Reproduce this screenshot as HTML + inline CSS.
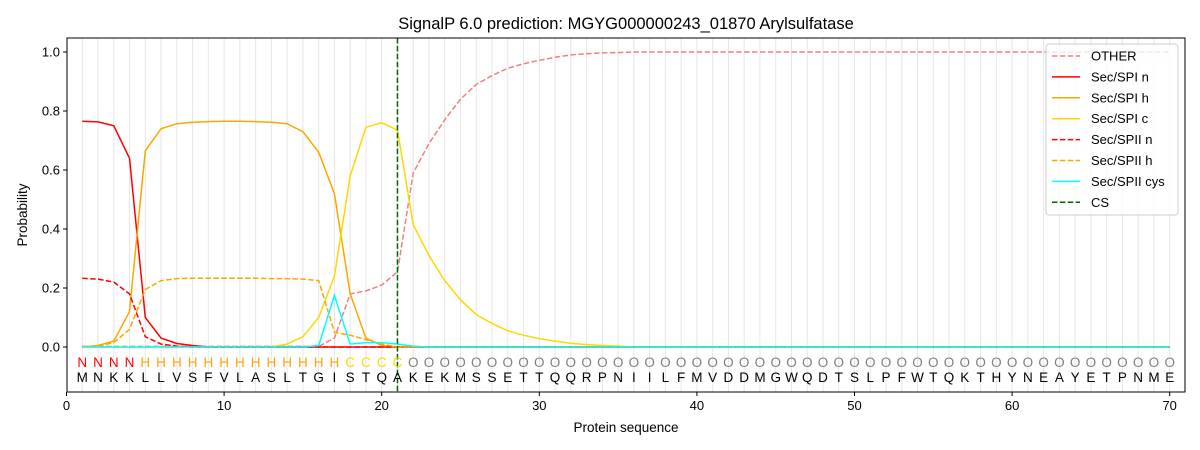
<!DOCTYPE html>
<html><head><meta charset="utf-8"><style>body{margin:0;background:#fff}svg{display:block;font-family:"Liberation Sans","DejaVu Sans",sans-serif}</style></head>
<body>
<svg id="s" width="1200" height="450" xmlns="http://www.w3.org/2000/svg"></svg>
<script>
const s=document.getElementById('s');
const X=i=>66.5+15.76*i, Y=v=>347-295*v;
let h='';
h+='<rect x="67" y="38" width="1118" height="354" fill="#fff" stroke="none"/>';
for(let i=1;i<=70;i++)h+=`<line x1="${X(i)}" y1="38" x2="${X(i)}" y2="392" stroke="#e6e6e6" stroke-width="1"/>`;
function arr(m,def){const a=[];for(let i=1;i<=70;i++)a.push(m[i]!==undefined?m[i]:def);return a;}
const other=arr({1:0,16:0,17:0.03,18:0.18,19:0.19,20:0.21,21:0.255,22:0.59,23:0.69,24:0.77,25:0.84,26:0.89,27:0.92,28:0.945,29:0.96,30:0.972,31:0.982,32:0.99,33:0.994,34:0.997,35:0.998},1);
for(let i=1;i<=16;i++)other[i-1]=0.002;
const spin=arr({1:0.765,2:0.763,3:0.75,4:0.64,5:0.1,6:0.03,7:0.012,8:0.005},0);
const spih=arr({1:0,2:0.005,3:0.02,4:0.12,5:0.665,6:0.74,7:0.757,8:0.762,9:0.764,10:0.765,11:0.765,12:0.764,13:0.762,14:0.757,15:0.73,16:0.66,17:0.52,18:0.18,19:0.03,20:0.005},0);
const spic=arr({14:0.01,15:0.035,16:0.1,17:0.24,18:0.58,19:0.745,20:0.76,21:0.735,22:0.415,23:0.31,24:0.225,25:0.16,26:0.11,27:0.08,28:0.055,29:0.04,30:0.028,31:0.02,32:0.013,33:0.008,34:0.005,35:0.003},0);
const s2n=arr({1:0.233,2:0.23,3:0.22,4:0.18,5:0.035,6:0.01,7:0.003},0);
const s2h=arr({1:0,2:0.003,3:0.015,4:0.06,5:0.195,6:0.225,7:0.232,8:0.233,9:0.233,10:0.233,11:0.233,12:0.233,13:0.232,14:0.232,15:0.23,16:0.225,17:0.05,18:0.04,19:0.025,20:0.01},0);
const cys=arr({16:0.005,17:0.175,18:0.01,19:0.015,20:0.015,21:0.01,22:0.003},0);
function line(a,c,d){h+=`<polyline fill="none" stroke="${c}" stroke-width="1.5" ${d?'stroke-dasharray="5.5,2.4"':''} points="${a.map((v,i)=>X(i+1).toFixed(1)+','+Y(v).toFixed(1)).join(' ')}"/>`;}
line(other,'#f08080',1);line(spin,'#ff0000');line(spih,'#ffa500');line(spic,'#ffd700');line(s2n,'#ff0000',1);line(s2h,'#ffa500',1);line(cys,'#00ffff');
h+=`<line x1="${X(21)}" y1="38" x2="${X(21)}" y2="392" stroke="#006400" stroke-width="1.5" stroke-dasharray="5.5,2.4"/>`;
const seq="MNKKLLVSFVLASLTGISTQAKEKMSSETTQQRPNIILFMVDDMGWQDTSLPFWTQKTHYNEAYETPNME";
for(let i=1;i<=70;i++){let l,c;if(i<=4){l='N';c='#ff0000'}else if(i<=17){l='H';c='#ffa500'}else if(i<=21){l='C';c='#ffd700'}else{l='O';c='#808080'}
h+=`<text x="${X(i)}" y="367" font-size="13.5" fill="${c}" text-anchor="middle">${l}</text><text x="${X(i)}" y="382" font-size="13.5" fill="#000" text-anchor="middle">${seq[i-1]}</text>`;}
h+='<rect x="67" y="38" width="1118" height="354" fill="none" stroke="#000" stroke-width="1"/>';
for(let t=0;t<=70;t+=10){h+=`<line x1="${X(t)}" y1="392" x2="${X(t)}" y2="396" stroke="#000"/><text x="${X(t)}" y="410" font-size="13" text-anchor="middle">${t}</text>`;}
for(let k=0;k<=5;k++){const v=k*0.2;h+=`<line x1="63" y1="${Y(v)}" x2="67" y2="${Y(v)}" stroke="#000"/><text x="60" y="${Y(v)+4.5}" font-size="13" text-anchor="end">${v.toFixed(1)}</text>`;}
h+='<text x="626" y="432" font-size="13.5" text-anchor="middle">Protein sequence</text>';
h+='<text transform="translate(27,215) rotate(-90)" font-size="13.5" text-anchor="middle">Probability</text>';
h+='<text x="626" y="29" font-size="16.5" text-anchor="middle">SignalP 6.0 prediction: MGYG000000243_01870 Arylsulfatase</text>';
h+='<rect x="1046" y="44" width="132" height="171" rx="3" fill="#fff" fill-opacity="0.8" stroke="#ccc"/>';
const L=[['OTHER','#f08080',1],['Sec/SPI n','#ff0000',0],['Sec/SPI h','#ffa500',0],['Sec/SPI c','#ffd700',0],['Sec/SPII n','#ff0000',1],['Sec/SPII h','#ffa500',1],['Sec/SPII cys','#00ffff',0],['CS','#006400',1]];
L.forEach((e,i)=>{const y=56+i*20.9;h+=`<line x1="1052" y1="${y}" x2="1080" y2="${y}" stroke="${e[1]}" stroke-width="1.5" ${e[2]?'stroke-dasharray="5.5,2.4"':''}/><text x="1091" y="${y+4.5}" font-size="13">${e[0]}</text>`;});
s.innerHTML=h;
</script>
</body></html>
